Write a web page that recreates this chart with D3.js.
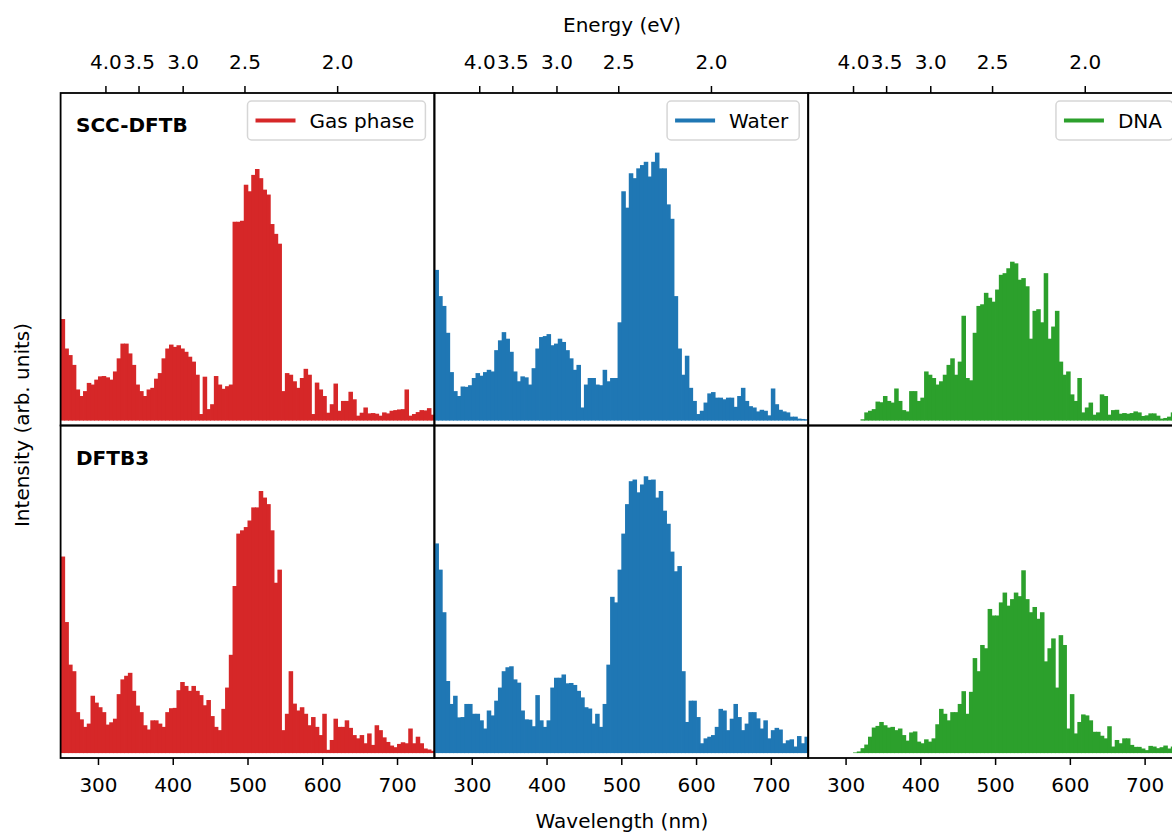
<!DOCTYPE html>
<html><head><meta charset="utf-8">
<script src="https://cdn.jsdelivr.net/npm/d3@7"></script>
<style>body{margin:0;background:#fff;} text{font-family:"DejaVu Sans",sans-serif;}</style>
</head><body><svg id="c" width="1172" height="834"></svg>
<script>
// ---------- data ----------
const binStart = 250, binWidth = 5, binCount = 100;
const wavelengthTicks = [300, 400, 500, 600, 700];
const energyTicks = [4.0, 3.5, 3.0, 2.5, 2.0];
const energyTickLabels = ["4.0", "3.5", "3.0", "2.5", "2.0"];
const environments = ["Gas phase", "Water", "DNA"];
const methods = ["SCC-DFTB", "DFTB3"];
const colors = ["#d62728", "#1f77b4", "#2ca02c"];

const gasSCC = [31,22,20,17,9.5,7.5,9,11.5,11,12.5,13.5,13.6,13.2,12.5,15,19,23.5,23.5,20.5,17,
 11,9,7.5,9.5,10,12.8,14.5,19,22,23.2,22.5,23,22,21,19.5,18,14,2,13.4,3.5,
 5,13.6,11,9.7,10.5,11,60.7,60.7,61,72,70,75,76.8,74,70.5,69,60,57,54,9,
 14.5,14,12,10,13,15.8,14,2,11.6,9.5,7.5,2.4,5,11.3,3,6,6,8.8,6.5,1.5,
 2.4,4,2.2,2.3,2.1,1.5,2.5,2.2,3,3.2,3.4,3.5,9.5,1.5,2,2.6,3.2,3.1,3.8,1.8];
const waterSCC = [46,38,35,26.8,14.8,9,7.5,10.4,10.3,10.8,13,14.5,13.7,14.8,15.5,15,21.5,24.5,27,25,
 21,15,12,13.5,13.2,11,16,22,25.5,25.8,26.4,23,23.5,25,24,21.5,19,15.5,17,4,
 11,13,13,11,10.8,15.5,12,13,13,30,70,65,75.5,74,77,78,79,74.5,79,81.8,
 77,77,66,61.6,38,22,14,19.8,10,6,2,3,5.5,8.3,8.7,7,7,6.5,7,7,
 4.2,7.5,10,6,4.4,4,2.8,3.3,3,1.6,9.8,5,3.3,2.8,2.5,1.2,1.2,0.6,0.5,0.4];
const dnaSCC = [0,0,0,0,0,0,0,0,0,0,0,0,0,0,0.4,2.5,3,3.5,5.8,5.6,
 7.5,6,5.5,9.8,6,3.2,2.8,9,9,6,7,15,14,13,11,12,14,17,19,14,
 18,32,13,12.3,26.8,35,35.5,39,37.5,36.3,40,44.5,45,46.5,48.5,48,43,43.5,41,25,
 33.5,34,30,45,25,28.7,33.5,18,14,15,8,6,13,2.5,4,5.5,1.8,2.5,8,7.5,
 1.8,3.2,3.3,2.1,2.3,2.1,2.3,2.8,2.5,1.4,1.6,2.2,2.2,1.5,0.6,0.8,1.2,2.5,1.5,1.2];
const gasD3 = [60,40,27,25,12.5,10.3,8,9,17.5,15.4,14,12.5,8.7,9.4,10.5,18,22.5,23.6,24.5,19,
 14.5,12.5,8.5,7.2,10,10,9,8,12.5,13.7,13.8,19.2,21.7,20.5,19,20.5,19,17.7,14.6,16.2,
 11.3,8,7,13.5,20,30,51,67,68,69,71,75,75,80,78,76,68,52,56,7,
 12,25,15.1,13,14,12,8.5,11,8,5.5,12,1,4,10.5,8,8,10,7.7,5.5,4.5,
 5.5,3,6,2.5,8.5,7,4.8,3.4,2.3,1.8,2.8,3.3,3,7.5,3,5,3,1.4,1.1,0.7];
const waterD3 = [64,56,43,22,15,17.5,10.9,11,15,15,12,12,10,7.5,13,11.5,16,20,25,26.2,
 26.5,22.5,21.5,13,10.3,10.2,8.2,17.7,10,8,10,20,23,23,24,21.3,21.4,20.8,19,17,
 14,13.6,9,12,8,15,27,47.7,46,56,67,76,83,83.5,79.6,82,84.5,83.4,83.5,78,
 80,74,70,61.5,55.5,57.1,25,9.5,16,16,11,3,4.5,5,5.5,8,13.5,13,7,10.5,
 15,11,7,9,12.5,12.5,10.6,7.5,10,4.5,7,7.7,7.2,3,3.9,4.2,2,5.2,3,5];
const dnaD3 = [0,0,0,0,0,0,0,0,0,0,0,0,0.2,0.5,1.5,2.6,5,7.8,8.3,9.5,
 8.5,7.8,8,7,7.5,5.5,3.8,6.3,6.6,3.5,3,4.2,3.5,4.5,8.8,13.5,12,10,12.5,12.5,
 15,18.9,12,18.7,29,25,33,32,44,42,42,46,49,45,47,49,47.9,55.8,47,43,
 44.6,41,43,28,32,35,20,36,33,7.5,18,6,9.5,11.8,11.5,10,6.5,6.5,5.3,4.5,
 8.2,2,4,3,4.5,4.5,2.5,1.9,1.9,1.4,0.9,2.2,2,1.5,1.8,2.3,1.4,2,1.5,1.2];

const series = [[gasSCC, waterSCC, dnaSCC], [gasD3, waterD3, dnaD3]];
const binEdges = d3.range(binCount).map(i => binStart + i * binWidth);

// ---------- layout ----------
const svg = d3.select("#c");
const leftX = 60.6, panelW = 373.8, topY = 93, panelH = 332.5;
const font = "DejaVu Sans, sans-serif";
const fs = 20;

methods.forEach((m, r) => {
  const y = d3.scaleLinear().domain([-1.5, 100]).range([topY + (r + 1) * panelH, topY + r * panelH]);
  environments.forEach((env, c) => {
    const x = d3.scaleLinear().domain([250, 750]).range([leftX + c * panelW, leftX + (c + 1) * panelW]);
    const id = `clip${r}${c}`;
    svg.append("clipPath").attr("id", id).append("rect")
      .attr("x", x(250)).attr("y", y(100)).attr("width", panelW).attr("height", panelH);
    const g = svg.append("g").attr("clip-path", `url(#${id})`);
    const vals = series[r][c];
    g.selectAll("rect").data(binEdges.map((e, i) => ({e, v: vals[i]})).filter(d => d.v > 0))
      .join("rect")
      .attr("x", d => x(d.e))
      .attr("width", d => x(d.e + binWidth) - x(d.e) + 0.8)
      .attr("y", d => y(d.v))
      .attr("height", d => y(0) - y(d.v))
      .attr("fill", colors[c]);

    // frame
    svg.append("rect").attr("x", x(250)).attr("y", y(100)).attr("width", panelW).attr("height", panelH)
      .attr("fill", "none").attr("stroke", "#000").attr("stroke-width", 1.8);

    // bottom axis
    if (r === 1) {
      const ax = svg.append("g").attr("transform", `translate(0,${y(-1.5)})`)
        .call(d3.axisBottom(x).tickValues(wavelengthTicks).tickSize(7).tickPadding(13).tickSizeOuter(0));
      ax.select(".domain").remove();
      ax.selectAll("line").attr("stroke-width", 1.5);
      ax.selectAll("text").attr("font-size", fs).attr("font-family", font).attr("fill", "#000");
    }
    // top energy axis
    if (r === 0) {
      const ax = svg.append("g").attr("transform", `translate(0,${topY})`)
        .call(d3.axisTop(x).tickValues(energyTicks.map(E => 1239.84 / E)).tickSize(7).tickPadding(17)
          .tickFormat((d, i) => energyTickLabels[i]).tickSizeOuter(0));
      ax.select(".domain").remove();
      ax.selectAll("line").attr("stroke-width", 1.5);
      ax.selectAll("text").attr("font-size", fs).attr("font-family", font).attr("fill", "#000");

      // legend
      const lg = svg.append("g");
      const t = lg.append("text").text(env).attr("font-size", fs).attr("font-family", font);
      const tw = t.node().getComputedTextLength();
      const bw = tw + 73, bh = 39;
      const bx = x(750) - 9 - bw, by = topY + 8;
      lg.insert("rect", "text").attr("x", bx).attr("y", by).attr("width", bw).attr("height", bh)
        .attr("rx", 4).attr("fill", "#fff").attr("fill-opacity", 0.8).attr("stroke", "#d6d6d6").attr("stroke-width", 1.5);
      lg.append("line").attr("x1", bx + 8).attr("x2", bx + 48).attr("y1", by + bh / 2).attr("y2", by + bh / 2)
        .attr("stroke", colors[c]).attr("stroke-width", 4);
      t.attr("x", bx + 62).attr("y", by + bh / 2 + 7);
    }
  });
  svg.append("text").text(m).attr("x", 76).attr("y", topY + r * panelH + 39)
    .attr("font-size", fs).attr("font-weight", "bold").attr("font-family", font);
});

svg.append("text").text("Energy (eV)").attr("x", 622).attr("y", 32).attr("text-anchor", "middle")
  .attr("font-size", fs).attr("font-family", font);
svg.append("text").text("Wavelength (nm)").attr("x", 622).attr("y", 828).attr("text-anchor", "middle")
  .attr("font-size", fs).attr("font-family", font);
svg.append("text").text("Intensity (arb. units)").attr("transform", "translate(29,425) rotate(-90)")
  .attr("text-anchor", "middle").attr("font-size", fs).attr("font-family", font);
</script></body></html>
